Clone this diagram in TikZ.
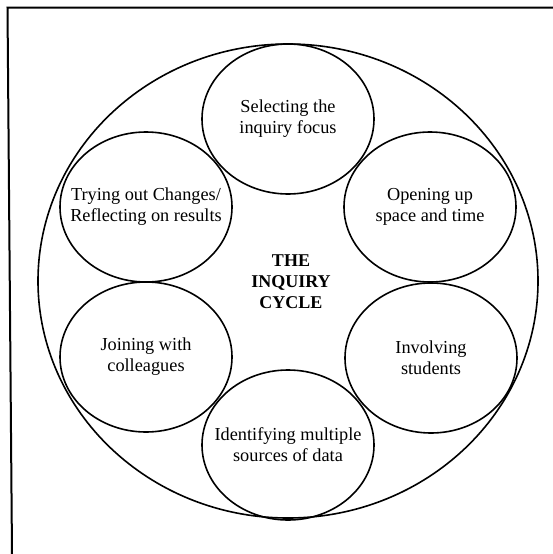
\documentclass[tikz,border=0pt]{standalone}
\usepackage{fontspec}
\setmainfont{Liberation Serif}
\usetikzlibrary{shapes.geometric, calc}

\begin{document}
\begin{tikzpicture}[
        x=1pt, y=-1pt,
        stage/.style={ellipse, draw, line width=1.6pt, minimum width=172pt, minimum height=150pt, inner xsep=-30pt, inner ysep=0pt, align=center, font=\fontsize{18.3}{21}\selectfont},
        title/.style={align=center, font=\fontsize{18}{21}\selectfont\bfseries},
        frame/.style={line width=2pt}
    ]
        \useasboundingbox (0,0) rectangle (553,554);
        \draw[frame] (12,554) -- (7.5,7.5) -- (553,7.5);
        \draw[line width=1.6pt] (288,281) ellipse [x radius=250pt, y radius=237pt];

        \node[title] (cycle) at (291,282) {THE\\INQUIRY\\CYCLE};

        \node[stage] (select) at (288,119) {Selecting the\\inquiry focus};
        \node[stage] (open) at (430,207) {Opening up\\space and time};
        \node[stage] (involve) at (431,358) {Involving\\students};
        \node[stage] (identify) at (288,445) {Identifying multiple\\sources of data};
        \node[stage] (join) at (146,357) {Joining with\\colleagues};
        \node[stage] (try) at (146,207) {Trying out Changes/\\Reflecting on results};
    \end{tikzpicture}
\end{document}
